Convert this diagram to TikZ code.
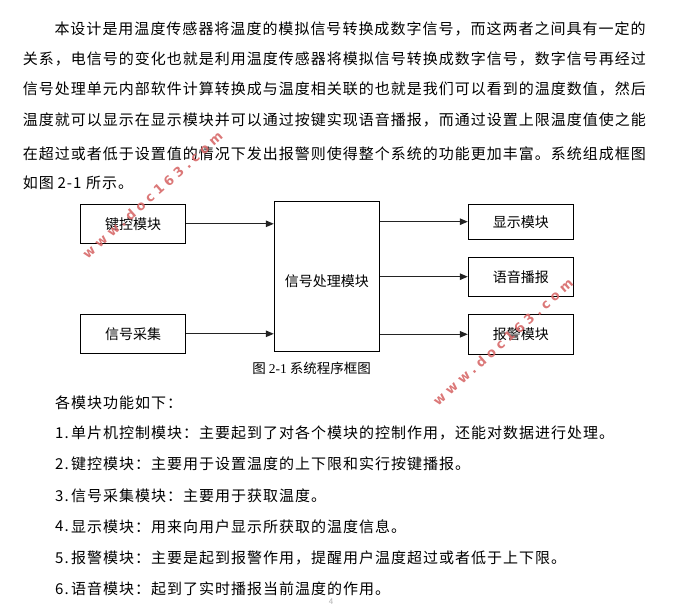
\documentclass[tikz,border=0pt]{standalone}
\usepackage{fontspec}
\setmainfont{Noto Sans CJK SC}
\newfontfamily\bodyfont[LetterSpace=6.67]{Noto Sans CJK SC}
\newfontfamily\serifdigits{Liberation Serif}
\newfontfamily\wmfont[LetterSpace=32]{DejaVu Sans}
\usetikzlibrary{arrows.meta}
\definecolor{wm}{RGB}{215,105,105}
\definecolor{linegray}{RGB}{35,35,35}
\begin{document}
\begin{tikzpicture}[x=1pt,y=-1pt,
  txt/.style={anchor=west,inner sep=0pt,font=\bodyfont\fontsize{15}{18}\selectfont},
  box/.style={draw,line width=1pt,inner sep=0pt,font=\fontsize{14}{16}\selectfont},
  lbl/.style={inner sep=0pt,font=\fontsize{14}{16}\selectfont},
  arr/.style={line width=1.2pt,draw=linegray,-{Triangle[length=8pt,width=6.5pt]}},
  wmark/.style={text=wm,font=\wmfont\bfseries\fontsize{13}{14}\selectfont,rotate=41.7,opacity=.9,inner sep=0pt}]
\useasboundingbox (0,0) rectangle (683,608);

% paragraph
\node[txt] (p1) at (54.3,29) {本设计是用温度传感器将温度的模拟信号转换成数字信号，而这两者之间具有一定的};
\node[txt] (p2) at (22.7,59.3) {关系，电信号的变化也就是利用温度传感器将模拟信号转换成数字信号，数字信号再经过};
\node[txt] (p3) at (22.7,89.3) {信号处理单元内部软件计算转换成与温度相关联的也就是我们可以看到的温度数值，然后};
\node[txt] (p4) at (22.7,120) {温度就可以显示在显示模块并可以通过按键实现语音播报，而通过设置上限温度值使之能};
\node[txt] (p5) at (22.7,153.3) {在超过或者低于设置值的情况下发出报警则使得整个系统的功能更加丰富。系统组成框图};
\node[txt] (p6a) at (22.7,183.3) {如图};
\node[txt] (p6b) at (57.3,183.3) {2-1};
\node[txt] (p6c) at (86,183.3) {所示。};

% diagram
\node[box,minimum width=104.8pt,minimum height=39pt] (kc) at (133.1,223.8) {键控模块};
\node[box,minimum width=104.8pt,minimum height=39pt] (cj) at (133.1,333.8) {信号采集};
\node[box,minimum width=105pt,minimum height=150pt] (cl) at (326.8,276) {};
\node[lbl] (cltxt) at (326.8,281) {信号处理模块};
\node[box,minimum width=105pt,minimum height=35.3pt] (xs) at (520.8,221.7) {显示模块};
\node[box,minimum width=105pt,minimum height=38.7pt] (yy) at (520.8,276.7) {语音播报};
\node[box,minimum width=105pt,minimum height=40pt] (bj) at (520.8,334.3) {报警模块};

\draw[arr] (kc.east) -- (kc.east -| cl.west);
\draw[arr] (cj.east) -- (cj.east -| cl.west);
\draw[arr] (cl.east |- xs.west) -- (xs.west);
\draw[arr] (cl.east |- yy.west) -- (yy.west);
\draw[arr] (cl.east |- bj.west) -- (bj.west);

\node[inner sep=0pt,font=\fontsize{13.5}{15}\selectfont] (cap) at (311.7,368.3) {图 {\serifdigits 2-1} 系统程序框图};

% list
\node[txt] (l0) at (55,403) {各模块功能如下：};
\node[txt] (n1) at (55,433.3) {1.};
\node[txt] (l1) at (71,433.3) {单片机控制模块：主要起到了对各个模块的控制作用，还能对数据进行处理。};
\node[txt] (n2) at (55,464) {2.};
\node[txt] (l2) at (71,464) {键控模块：主要用于设置温度的上下限和实行按键播报。};
\node[txt] (n3) at (55,496) {3.};
\node[txt] (l3) at (71,496) {信号采集模块：主要用于获取温度。};
\node[txt] (n4) at (55,526.7) {4.};
\node[txt] (l4) at (71,526.7) {显示模块：用来向用户显示所获取的温度信息。};
\node[txt] (n5) at (55,558) {5.};
\node[txt] (l5) at (71,558) {报警模块：主要是起到报警作用，提醒用户温度超过或者低于上下限。};
\node[txt] (n6) at (55,589) {6.};
\node[txt] (l6) at (71,589) {语音模块：起到了实时播报当前温度的作用。};

\node[inner sep=0pt,text=gray!60,font=\fontsize{8}{9}\selectfont\itshape] (pg) at (331,602) {4};

% watermarks
\node[wmark] (wm1) at (152.5,195) {www.doc163.com};
\node[wmark] (wm2) at (503,342) {www.doc163.com};
\end{tikzpicture}
\end{document}
